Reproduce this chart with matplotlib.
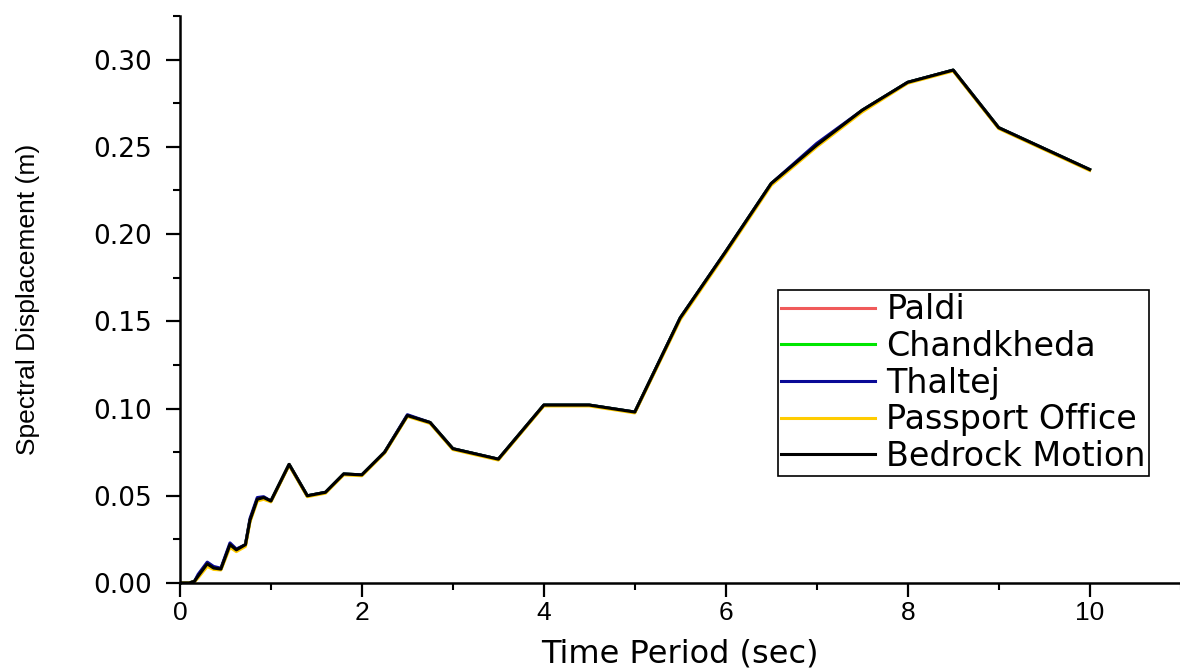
import matplotlib.pyplot as plt
import matplotlib.ticker as ticker

# Spectral displacement vs time period
periods = [0, 0.1, 0.16, 0.2, 0.3, 0.37, 0.45, 0.55, 0.62, 0.72,
           0.77, 0.85, 0.92, 1.0, 1.2, 1.4, 1.6, 1.8, 2.0, 2.25,
           2.5, 2.75, 3.0, 3.5, 4.0, 4.5, 5.0, 5.5, 6.0, 6.5,
           7.0, 7.5, 8.0, 8.5, 9.0, 10.0]

bedrock = [0, 0, 0.001, 0.004, 0.011, 0.0086, 0.008, 0.022, 0.019, 0.022,
           0.036, 0.048, 0.049, 0.047, 0.068, 0.050, 0.052, 0.0625, 0.062, 0.075,
           0.096, 0.092, 0.077, 0.071, 0.102, 0.102, 0.098, 0.152, 0.19, 0.229,
           0.251, 0.271, 0.287, 0.294, 0.261, 0.237]

thaltej = [0, 0, 0.001, 0.005, 0.012, 0.0095, 0.0085, 0.023, 0.0195, 0.022,
           0.037, 0.049, 0.0495, 0.047, 0.068, 0.050, 0.052, 0.0625, 0.062, 0.075,
           0.0965, 0.092, 0.077, 0.071, 0.102, 0.102, 0.098, 0.152, 0.19, 0.229,
           0.252, 0.271, 0.287, 0.294, 0.261, 0.237]

passport = [0, 0, 0.0008, 0.003, 0.0095, 0.0078, 0.0075, 0.0205, 0.018, 0.021,
            0.035, 0.047, 0.048, 0.0465, 0.0675, 0.0495, 0.0515, 0.062, 0.0615, 0.0745,
            0.0955, 0.0915, 0.0765, 0.0705, 0.1015, 0.1015, 0.0975, 0.151, 0.189, 0.228,
            0.250, 0.270, 0.2865, 0.2935, 0.2605, 0.2365]

paldi = list(bedrock)
chandkheda = list(bedrock)

series = [
    ("Paldi", paldi, "#f05a5a"),
    ("Chandkheda", chandkheda, "#00e600"),
    ("Thaltej", thaltej, "#0a0a96"),
    ("Passport Office", passport, "#ffcc00"),
    ("Bedrock Motion", bedrock, "#000000"),
]

fig = plt.figure(figsize=(11.8, 6.71), dpi=100)
fig.patch.set_facecolor("white")
ax = fig.add_axes([0.1525, 0.1311, 0.848, 0.845])

for name, vals, color in series:
    ax.plot(periods, vals, color=color, linewidth=2.2, label=name)

ax.set_xlim(0, 11)
ax.set_ylim(0, 0.325)

ax.xaxis.set_major_locator(ticker.MultipleLocator(2))
ax.xaxis.set_minor_locator(ticker.MultipleLocator(1))
ax.yaxis.set_major_locator(ticker.MultipleLocator(0.05))
ax.yaxis.set_minor_locator(ticker.MultipleLocator(0.025))
ax.yaxis.set_major_formatter(ticker.FormatStrFormatter("%.2f"))

for side in ("top", "right"):
    ax.spines[side].set_visible(False)
for side in ("left", "bottom"):
    ax.spines[side].set_linewidth(1.8)

ax.tick_params(which="major", direction="out", length=10, width=1.6, color="black")
ax.tick_params(which="minor", direction="out", length=5, width=1.5, color="black")
ax.tick_params(axis="y", which="major", pad=10)
ax.tick_params(axis="x", which="major", pad=3)

for lbl in ax.get_yticklabels():
    lbl.set_fontfamily("DejaVu Sans")
    lbl.set_fontsize(19)
for lbl in ax.get_xticklabels():
    lbl.set_fontfamily("Liberation Sans")
    lbl.set_fontsize(19)

ax.set_xlabel("Time Period (sec)", fontsize=23, family="DejaVu Sans")
ax.xaxis.set_label_coords(0.5, -0.098)
ax.set_ylabel("Spectral Displacement (m)", fontsize=19, family="Liberation Sans")
ax.yaxis.set_label_coords(-0.14, 0.5)

leg = ax.legend(
    loc="upper left", bbox_to_anchor=(778 / 1180, 1 - 290 / 671),
    bbox_transform=fig.transFigure,
    prop={"family": "DejaVu Sans", "size": 24},
    frameon=True, fancybox=False, shadow=False, framealpha=1,
    edgecolor="black", borderpad=0.1, borderaxespad=0,
    labelspacing=0.11, handlelength=2.8, handletextpad=0.35,
)
leg.get_frame().set_linewidth(1.2)

fig.savefig("out.png", dpi=100, facecolor="white")
